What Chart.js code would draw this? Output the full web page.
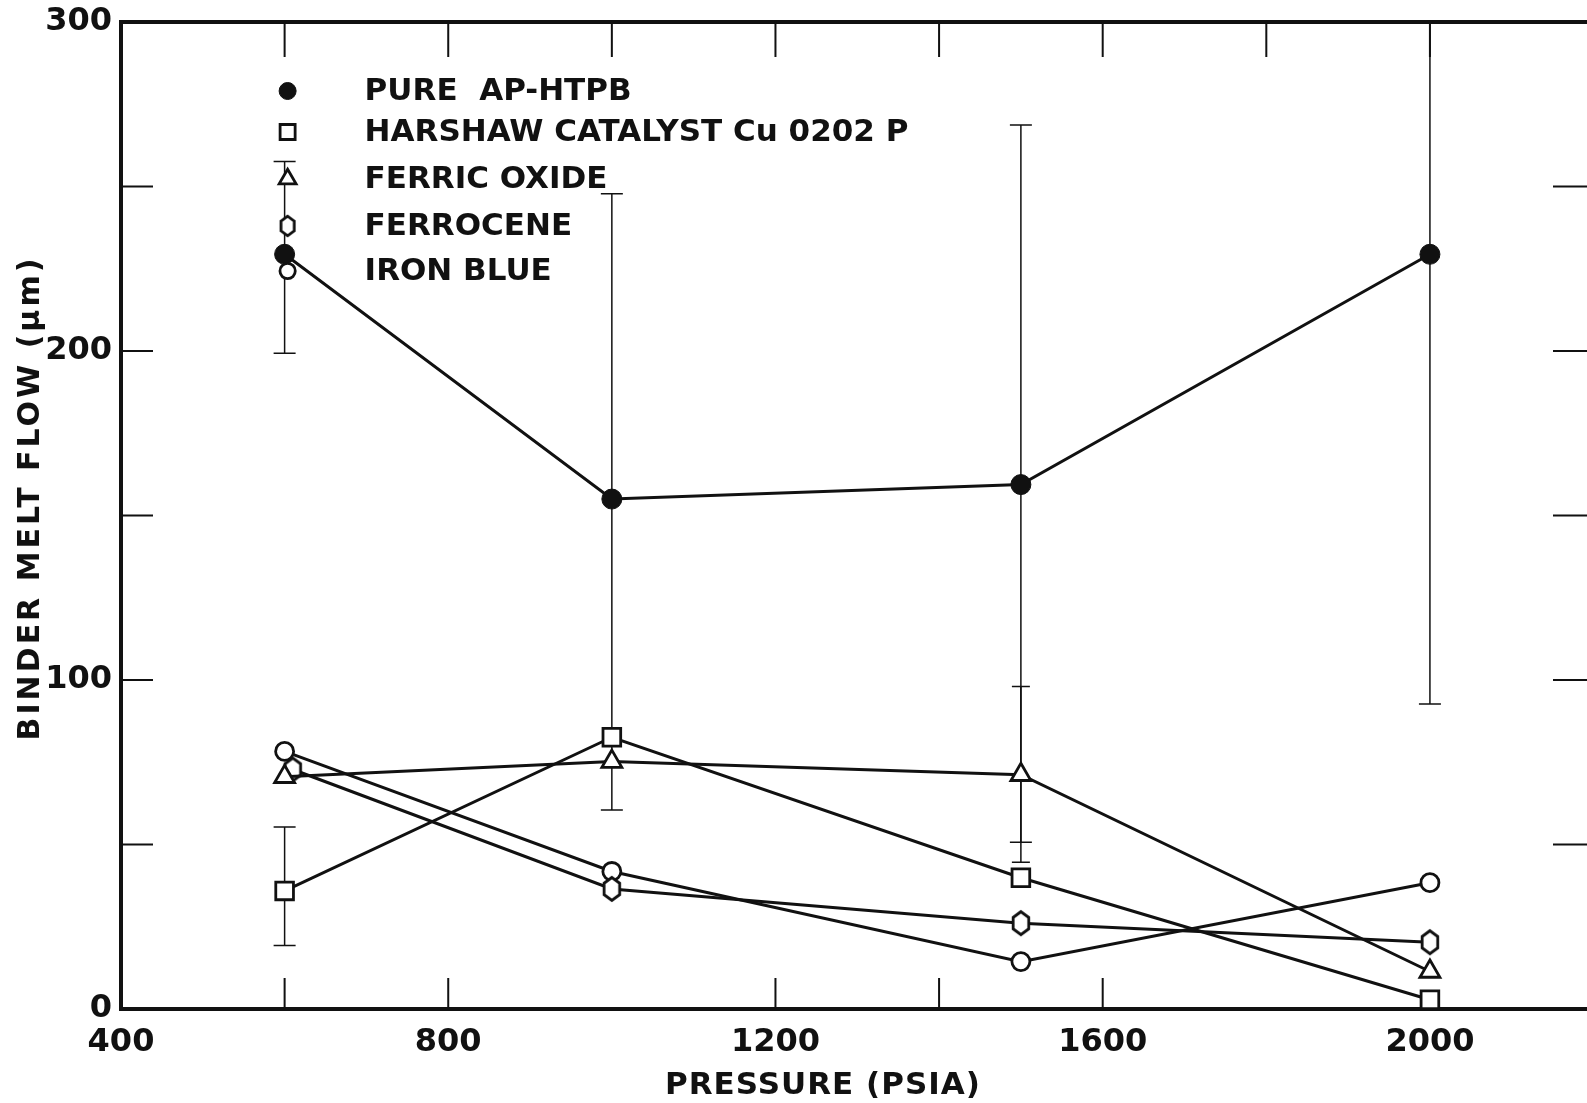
<!DOCTYPE html>
<html>
<head>
<meta charset="utf-8">
<title>Binder melt flow vs pressure</title>
<script src="https://cdn.jsdelivr.net/npm/chart.js@4.4.1/dist/chart.umd.min.js"></script>
<style>
  html, body { margin: 0; padding: 0; background: #fff; overflow: hidden; }
  canvas { display: block; }
</style>
</head>
<body>
<canvas id="meltChart" width="1587" height="1103"></canvas>
<script>
// --- DATA ---
const pressures = [600, 1000, 1500, 2000];
const ferrocenePressures = [610, 1000, 1500, 2000];

const pureValues = [229.4, 155.0, 159.4, 229.4];
const harshawValues = [35.9, 82.6, 39.9, 2.8];
const ferricValues = [70.6, 75.2, 71.2, 11.4];
const ferroceneValues = [72.8, 36.5, 26.1, 20.3];
const ironBlueValues = [78.3, 41.8, 14.4, 38.4];

// error bars (null = no bar)
const pureErrLow = [199.3, 60.5, 50.7, 92.7];
const pureErrHigh = [257.6, 247.8, 268.7, 366.0];
const harshawErrLow = [19.3, null, null, null];
const harshawErrHigh = [55.3, null, null, null];
const ferricErrLow = [null, null, 44.6, null];
const ferricErrHigh = [null, null, 98.0, null];

// axis ticks
const xLabelTicks = [400, 800, 1200, 1600, 2000];
const xTopTicks = [600, 800, 1000, 1200, 1400, 1600, 1800, 2000];
const xBottomTicks = [600, 800, 1200, 1400, 1600];
const yLabelTicks = [0, 100, 200, 300];
const ySideTicks = [50, 100, 150, 200, 250];

const INK = '#111';
const FONT = "'DejaVu Sans', sans-serif";

function toPoints(xs, ys) {
    return xs.map((x, i) => ({ x: x, y: ys[i] }));
}

// hexagon marker for ferrocene
function hexagonMarker(scale) {
    const c = document.createElement('canvas');
    c.width = Math.round(26 * scale); c.height = Math.round(30 * scale);
    const g = c.getContext('2d');
    const cx = c.width / 2, cy = c.height / 2, rx = 9 * scale, ry = 11.5 * scale;
    g.beginPath();
    for (let i = 0; i < 6; i++) {
        const a = Math.PI / 2 + i * Math.PI / 3;
        g.lineTo(cx + rx * Math.cos(a), cy - ry * Math.sin(a));
    }
    g.closePath();
    g.fillStyle = '#fff';
    g.fill();
    g.lineWidth = 2.8;
    g.strokeStyle = INK;
    g.stroke();
    return c;
}
const hexImg = hexagonMarker(1);
const hexLegendImg = hexagonMarker(0.85);

const openMarker = { pointBackgroundColor: '#fff', pointBorderColor: INK, pointBorderWidth: 2.8 };

const datasets = [
    Object.assign({
        label: 'PURE  AP-HTPB',
        data: toPoints(pressures, pureValues),
        pointStyle: 'circle', pointRadius: 10,
        errLow: pureErrLow, errHigh: pureErrHigh, capWidth: 22
    }, { pointBackgroundColor: INK, pointBorderColor: INK, pointBorderWidth: 1 }),
    Object.assign({
        label: 'HARSHAW CATALYST Cu 0202 P',
        data: toPoints(pressures, harshawValues),
        pointStyle: 'rect', pointRadius: 12.5,
        errLow: harshawErrLow, errHigh: harshawErrHigh, capWidth: 22
    }, openMarker),
    Object.assign({
        label: 'FERRIC OXIDE',
        data: toPoints(pressures, ferricValues),
        pointStyle: 'triangle', pointRadius: 11.5,
        errLow: ferricErrLow, errHigh: ferricErrHigh, capWidth: 18
    }, openMarker),
    Object.assign({
        label: 'FERROCENE',
        data: toPoints(ferrocenePressures, ferroceneValues),
        pointStyle: hexImg, legendStyle: hexLegendImg, pointRadius: 11
    }, openMarker),
    Object.assign({
        label: 'IRON BLUE',
        data: toPoints(pressures, ironBlueValues),
        pointStyle: 'circle', pointRadius: 9
    }, openMarker)
];
datasets.forEach(d => {
    d.borderColor = INK;
    d.borderWidth = 3;
    d.tension = 0;
    d.fill = false;
});

// --- decorations: error bars, inward ticks, top frame, legend, axis titles ---
const decorPlugin = {
    id: 'decor',
    beforeDatasetsDraw(chart) {
        const { ctx, chartArea: a, scales: { x, y } } = chart;
        ctx.save();
        ctx.beginPath();
        ctx.rect(a.left, a.top, a.right - a.left, a.bottom - a.top);
        ctx.clip();
        ctx.strokeStyle = INK;
        ctx.lineWidth = 1.5;
        chart.data.datasets.forEach(ds => {
            if (!ds.errLow) return;
            ds.data.forEach((p, i) => {
                if (ds.errLow[i] == null) return;
                const px = x.getPixelForValue(p.x);
                const lo = y.getPixelForValue(ds.errLow[i]);
                const hi = y.getPixelForValue(ds.errHigh[i]);
                const w = ds.capWidth / 2;
                ctx.beginPath();
                ctx.moveTo(px, lo); ctx.lineTo(px, hi);
                ctx.moveTo(px - w, lo); ctx.lineTo(px + w, lo);
                ctx.moveTo(px - w, hi); ctx.lineTo(px + w, hi);
                ctx.stroke();
            });
        });
        ctx.restore();
    },
    afterDraw(chart) {
        const { ctx, chartArea: a, scales: { x, y } } = chart;
        ctx.save();
        ctx.strokeStyle = INK;

        // top frame line
        ctx.lineWidth = 4;
        ctx.beginPath();
        ctx.moveTo(a.left - 2, a.top);
        ctx.lineTo(a.right, a.top);
        ctx.stroke();

        // inward ticks
        ctx.lineWidth = 2;
        ctx.beginPath();
        xTopTicks.forEach(v => {
            const px = x.getPixelForValue(v);
            ctx.moveTo(px, a.top); ctx.lineTo(px, a.top + 35);
        });
        xBottomTicks.forEach(v => {
            const px = x.getPixelForValue(v);
            ctx.moveTo(px, a.bottom); ctx.lineTo(px, a.bottom - 31);
        });
        ySideTicks.forEach(v => {
            const py = y.getPixelForValue(v);
            ctx.moveTo(a.left, py); ctx.lineTo(a.left + 32, py);
            ctx.moveTo(a.right, py); ctx.lineTo(a.right - 34, py);
        });
        ctx.stroke();

        // legend inside plot
        const legendX = x.getPixelForValue(600) + 3;
        const textX = legendX + 77;
        const rowOffsets = [69, 110, 157, 204, 249];
        ctx.font = 'bold 31px ' + FONT;
        ctx.textBaseline = 'middle';
        ctx.textAlign = 'left';
        chart.data.datasets.forEach((ds, i) => {
            const ry = a.top + rowOffsets[i];
            ctx.fillStyle = ds.pointBackgroundColor;
            ctx.strokeStyle = ds.pointBorderColor;
            ctx.lineWidth = ds.pointBorderWidth;
            Chart.helpers.drawPoint(ctx, {
                pointStyle: ds.legendStyle || ds.pointStyle,
                radius: ds.pointRadius * 0.85,
                borderWidth: ds.pointBorderWidth,
                rotation: 0
            }, legendX, ry);
            ctx.fillStyle = INK;
            ctx.fillText(ds.label, textX, ry + 1);
        });

        // axis titles
        ctx.fillStyle = INK;
        ctx.textAlign = 'center';
        ctx.font = 'bold 31px ' + FONT;
        ctx.letterSpacing = '1px';
        ctx.fillText('PRESSURE (PSIA)', 823, 1086);

        ctx.save();
        ctx.translate(31, 498);
        ctx.rotate(-Math.PI / 2);
        ctx.font = 'bold 30px ' + FONT;
        ctx.letterSpacing = '3px';
        ctx.fillText('BINDER MELT FLOW (\u03bcm)', 0, 0);
        ctx.restore();

        ctx.restore();
    }
};

new Chart(document.getElementById('meltChart'), {
    type: 'line',
    data: { datasets: datasets },
    options: {
        responsive: false,
        animation: false,
        layout: { autoPadding: false, padding: { top: 22, right: 0, bottom: 0, left: 0 } },
        plugins: {
            legend: { display: false },
            tooltip: { enabled: false }
        },
        scales: {
            x: {
                type: 'linear',
                min: 400,
                max: 2192,
                afterFit: s => { s.height = 94; s.paddingLeft = 0; s.paddingRight = 0; },
                afterBuildTicks: s => { s.ticks = xLabelTicks.map(v => ({ value: v })); },
                ticks: {
                    color: INK,
                    font: { family: FONT, size: 32, weight: 'bold' },
                    padding: 14,
                    maxRotation: 0,
                    autoSkip: false,
                    callback: v => String(v)
                },
                grid: { display: false, drawTicks: false },
                border: { display: true, width: 4, color: INK }
            },
            y: {
                min: 0,
                max: 300,
                afterFit: s => { s.width = 121; s.paddingTop = 0; s.paddingBottom = 0; },
                afterBuildTicks: s => { s.ticks = yLabelTicks.map(v => ({ value: v })); },
                ticks: {
                    color: INK,
                    font: { family: FONT, size: 32, weight: 'bold' },
                    padding: 9,
                    callback: v => String(v)
                },
                grid: { display: false, drawTicks: false },
                border: { display: true, width: 4, color: INK }
            }
        }
    },
    plugins: [decorPlugin]
});
</script>
</body>
</html>
